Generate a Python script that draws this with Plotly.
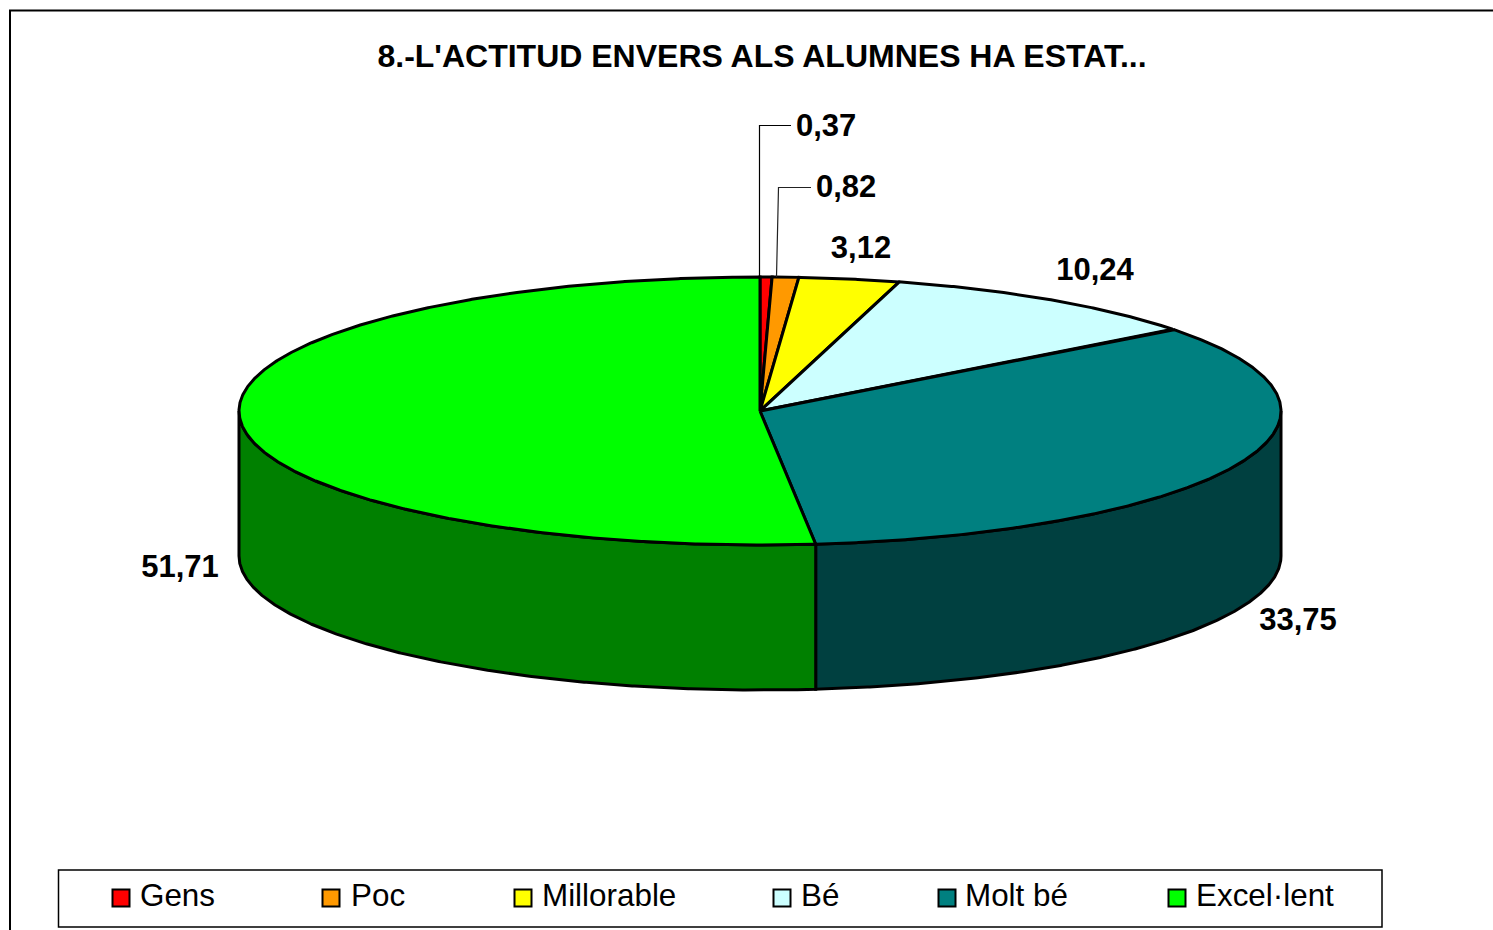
import numpy as np
import plotly.graph_objects as go

TITLE = "8.-L'ACTITUD ENVERS ALS ALUMNES HA ESTAT..."
categories = ["Gens", "Poc", "Millorable", "Bé", "Molt bé", "Excel·lent"]
values = [0.37, 0.82, 3.12, 10.24, 33.75, 51.71]
top_colors = ["#FF0000", "#FF9900", "#FFFF00", "#CCFFFF", "#008080", "#00FF00"]
side_colors = ["#800000", "#804C00", "#808000", "#668080", "#004040", "#008000"]

# layout, in page pixels
CX, CY, RX, RY, DEPTH = 760, 411, 521, 134, 145
label_x = [796, 816, 861, 1095, 1298, 180]
label_y = [128, 189, 250, 272, 622, 569]
label_anchor = ["middle right", "middle right", "middle center", "middle center", "middle center", "middle center"]
swatch_x = [121, 331, 523, 782, 947, 1177]
legend_text_x = [140, 351, 542, 801, 965, 1196]
LEGEND_Y = 898
FONT = "Liberation Sans, Arial, sans-serif"


def rim(a0, a1, drop=0):
    # angles are clockwise from the top of the ellipse, in degrees
    a = np.radians(np.linspace(a0, a1, max(int(abs(a1 - a0) * 4), 2)))
    return CX + RX * np.sin(a), CY - RY * np.cos(a) + drop


fig = go.Figure()
edges = np.cumsum([0] + values) * 360 / sum(values)

# outer wall of the slices on the near side
for i in range(len(values)):
    a0, a1 = max(edges[i], 90), min(edges[i + 1], 270)
    if a0 >= a1:
        continue
    xt, yt = rim(a0, a1)
    xb, yb = rim(a1, a0, DEPTH)
    fig.add_trace(go.Scatter(
        x=np.r_[xt, xb, xt[0]], y=np.r_[yt, yb, yt[0]], mode="lines",
        fill="toself", fillcolor=side_colors[i], line=dict(color="black", width=3),
        hoverinfo="skip",
    ))

# top face
for i in range(len(values)):
    xt, yt = rim(edges[i], edges[i + 1])
    fig.add_trace(go.Scatter(
        x=np.r_[CX, xt, CX], y=np.r_[CY, yt, CY], mode="lines",
        fill="toself", fillcolor=top_colors[i], line=dict(color="black", width=3),
        name=categories[i], hovertemplate="%{fullData.name}<extra></extra>",
    ))

# leader lines of the two smallest slices
fig.add_trace(go.Scatter(x=[759.5, 759.5, 791], y=[277, 125.5, 125.5], mode="lines",
                         line=dict(color="black", width=1.2), hoverinfo="skip"))
fig.add_trace(go.Scatter(x=[776.5, 778.5, 811], y=[277, 187.5, 187.5], mode="lines",
                         line=dict(color="#222222", width=1.2), hoverinfo="skip"))

# data labels
for i, v in enumerate(values):
    fig.add_trace(go.Scatter(
        x=[label_x[i]], y=[label_y[i]], mode="text", text=[f"{v:.2f}".replace(".", ",")],
        textposition=label_anchor[i], textfont=dict(family=FONT, size=31, color="black"),
        texttemplate="<b>%{text}</b>", hoverinfo="skip",
    ))

# legend
fig.add_trace(go.Scatter(
    x=swatch_x, y=[LEGEND_Y] * len(categories), mode="markers",
    marker=dict(symbol="square", size=17, color=top_colors, line=dict(color="black", width=2)),
    hoverinfo="skip",
))
fig.add_trace(go.Scatter(
    x=legend_text_x, y=[LEGEND_Y] * len(categories), mode="text", text=categories,
    textposition="middle right", textfont=dict(family=FONT, size=31.4, color="black"),
    hoverinfo="skip",
))

fig.update_layout(
    width=1493, height=930, margin=dict(l=0, r=0, t=0, b=0),
    paper_bgcolor="white", plot_bgcolor="white", showlegend=False,
    title=dict(text=f"<b>{TITLE}</b>", x=762 / 1493, y=1 - 56 / 930, xanchor="center", yanchor="middle",
               font=dict(family=FONT, size=32, color="black")),
    xaxis=dict(range=[0, 1493], visible=False, fixedrange=True),
    yaxis=dict(range=[930, 0], visible=False, fixedrange=True),
    shapes=[
        dict(type="line", x0=10, x1=10, y0=11, y1=930, line=dict(color="black", width=2)),
        dict(type="line", x0=9, x1=1493, y0=10.5, y1=10.5, line=dict(color="black", width=2)),
        dict(type="rect", x0=58.5, x1=1382, y0=870, y1=927, line=dict(color="black", width=1.5)),
    ],
)

fig.write_html("out.html", config={"displayModeBar": False},
               post_script="document.body.style.margin='0';document.body.style.overflow='hidden';")
